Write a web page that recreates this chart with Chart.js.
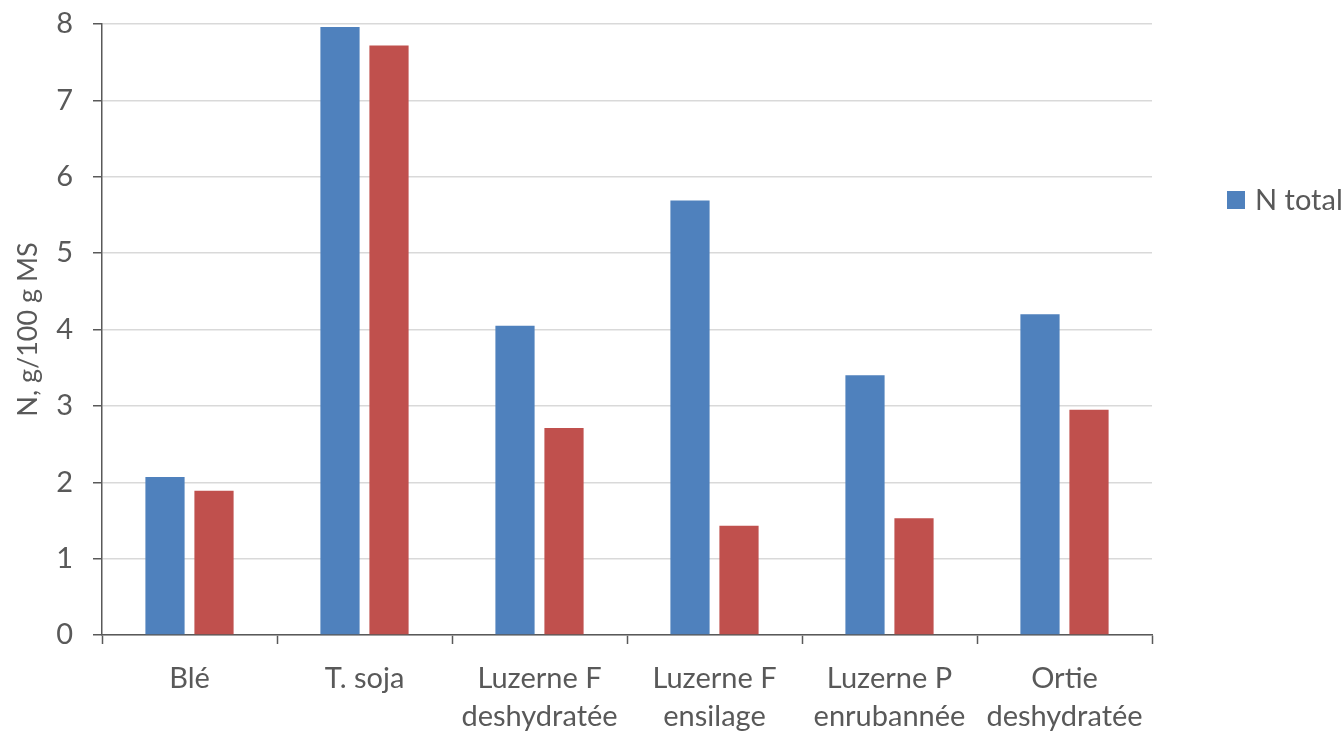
<!DOCTYPE html>
<html>
<head>
<meta charset="utf-8">
<script src="https://cdn.jsdelivr.net/npm/chart.js@4/dist/chart.umd.min.js"></script>
<style>
  html, body { margin: 0; padding: 0; background: #ffffff; overflow: hidden; }
  canvas { display: block; }
</style>
</head>
<body>
<canvas id="chart" width="1344" height="731"></canvas>
<script>
// Feed types (multi-line labels) and nitrogen contents, g/100 g dry matter
const categories = [
  ["Blé"],
  ["T. soja"],
  ["Luzerne F", "deshydratée"],
  ["Luzerne F", "ensilage"],
  ["Luzerne P", "enrubannée"],
  ["Ortie", "deshydratée"]
];
const nTotal     = [2.07, 7.96, 4.05, 5.69, 3.40, 4.20];
const nProteique = [1.89, 7.72, 2.71, 1.43, 1.53, 2.95];
const seriesNames = ["N total", "N protéique"];
const yAxisTitle = "N, g/100 g MS";
const yMin = 0, yMax = 8, yStep = 1;

const TEXT = "#595959";
const AXIS = "#595959";
const GRID = "#d9d9d9";
const BLUE = "#4f81bd";
const RED  = "#c0504d";
const FONT = "Lato";

// Side legend (first series only) and the rotated value-axis title
const annotations = {
  id: "annotations",
  afterDraw(chart) {
    const ctx = chart.ctx;
    const ds = chart.data.datasets[0];
    const area = chart.chartArea;
    ctx.save();
    ctx.fillStyle = ds.backgroundColor;
    ctx.fillRect(1227, 191, 18, 18);
    ctx.fillStyle = TEXT;
    ctx.font = "29px " + FONT;
    ctx.textBaseline = "middle";
    ctx.textAlign = "left";
    ctx.fillText(ds.label, 1255, 201);

    ctx.translate(28, (area.top + area.bottom) / 2);
    ctx.rotate(-Math.PI / 2);
    ctx.font = "27px " + FONT;
    ctx.textAlign = "center";
    ctx.fillText(yAxisTitle, 0, 0);
    ctx.restore();
  }
};

new Chart(document.getElementById("chart"), {
  type: "bar",
  data: {
    labels: categories,
    datasets: [
      { label: seriesNames[0], data: nTotal, backgroundColor: BLUE,
        categoryPercentage: 0.56, barPercentage: 0.8 },
      { label: seriesNames[1], data: nProteique, backgroundColor: RED,
        categoryPercentage: 0.56, barPercentage: 0.8 }
    ]
  },
  options: {
    responsive: false,
    animation: false,
    devicePixelRatio: 1,
    layout: { padding: { top: 24, right: 192, left: 0, bottom: 0 } },
    plugins: {
      legend: { display: false },
      tooltip: { enabled: false }
    },
    scales: {
      x: {
        grid: { offset: true, drawOnChartArea: false, drawTicks: true,
                tickLength: 9, tickColor: AXIS, tickWidth: 1.5 },
        border: { color: AXIS, width: 1.5 },
        ticks: { color: TEXT, font: { family: FONT, size: 29, lineHeight: 1.33 },
                 padding: 15, maxRotation: 0, autoSkip: false },
        afterFit(scale) { scale.height = 96; scale.paddingLeft = 0; scale.paddingRight = 0; }
      },
      y: {
        min: yMin, max: yMax,
        grid: { color: GRID, lineWidth: 1.5, drawTicks: true,
                tickLength: 9, tickColor: AXIS, tickWidth: 1.5 },
        border: { color: AXIS, width: 1.5 },
        ticks: { stepSize: yStep, color: TEXT,
                 font: { family: FONT, size: 29 }, padding: 20 },
        afterFit(scale) { scale.width = 102; scale.paddingTop = 0; scale.paddingBottom = 0; }
      }
    }
  },
  plugins: [annotations]
});
</script>
</body>
</html>
